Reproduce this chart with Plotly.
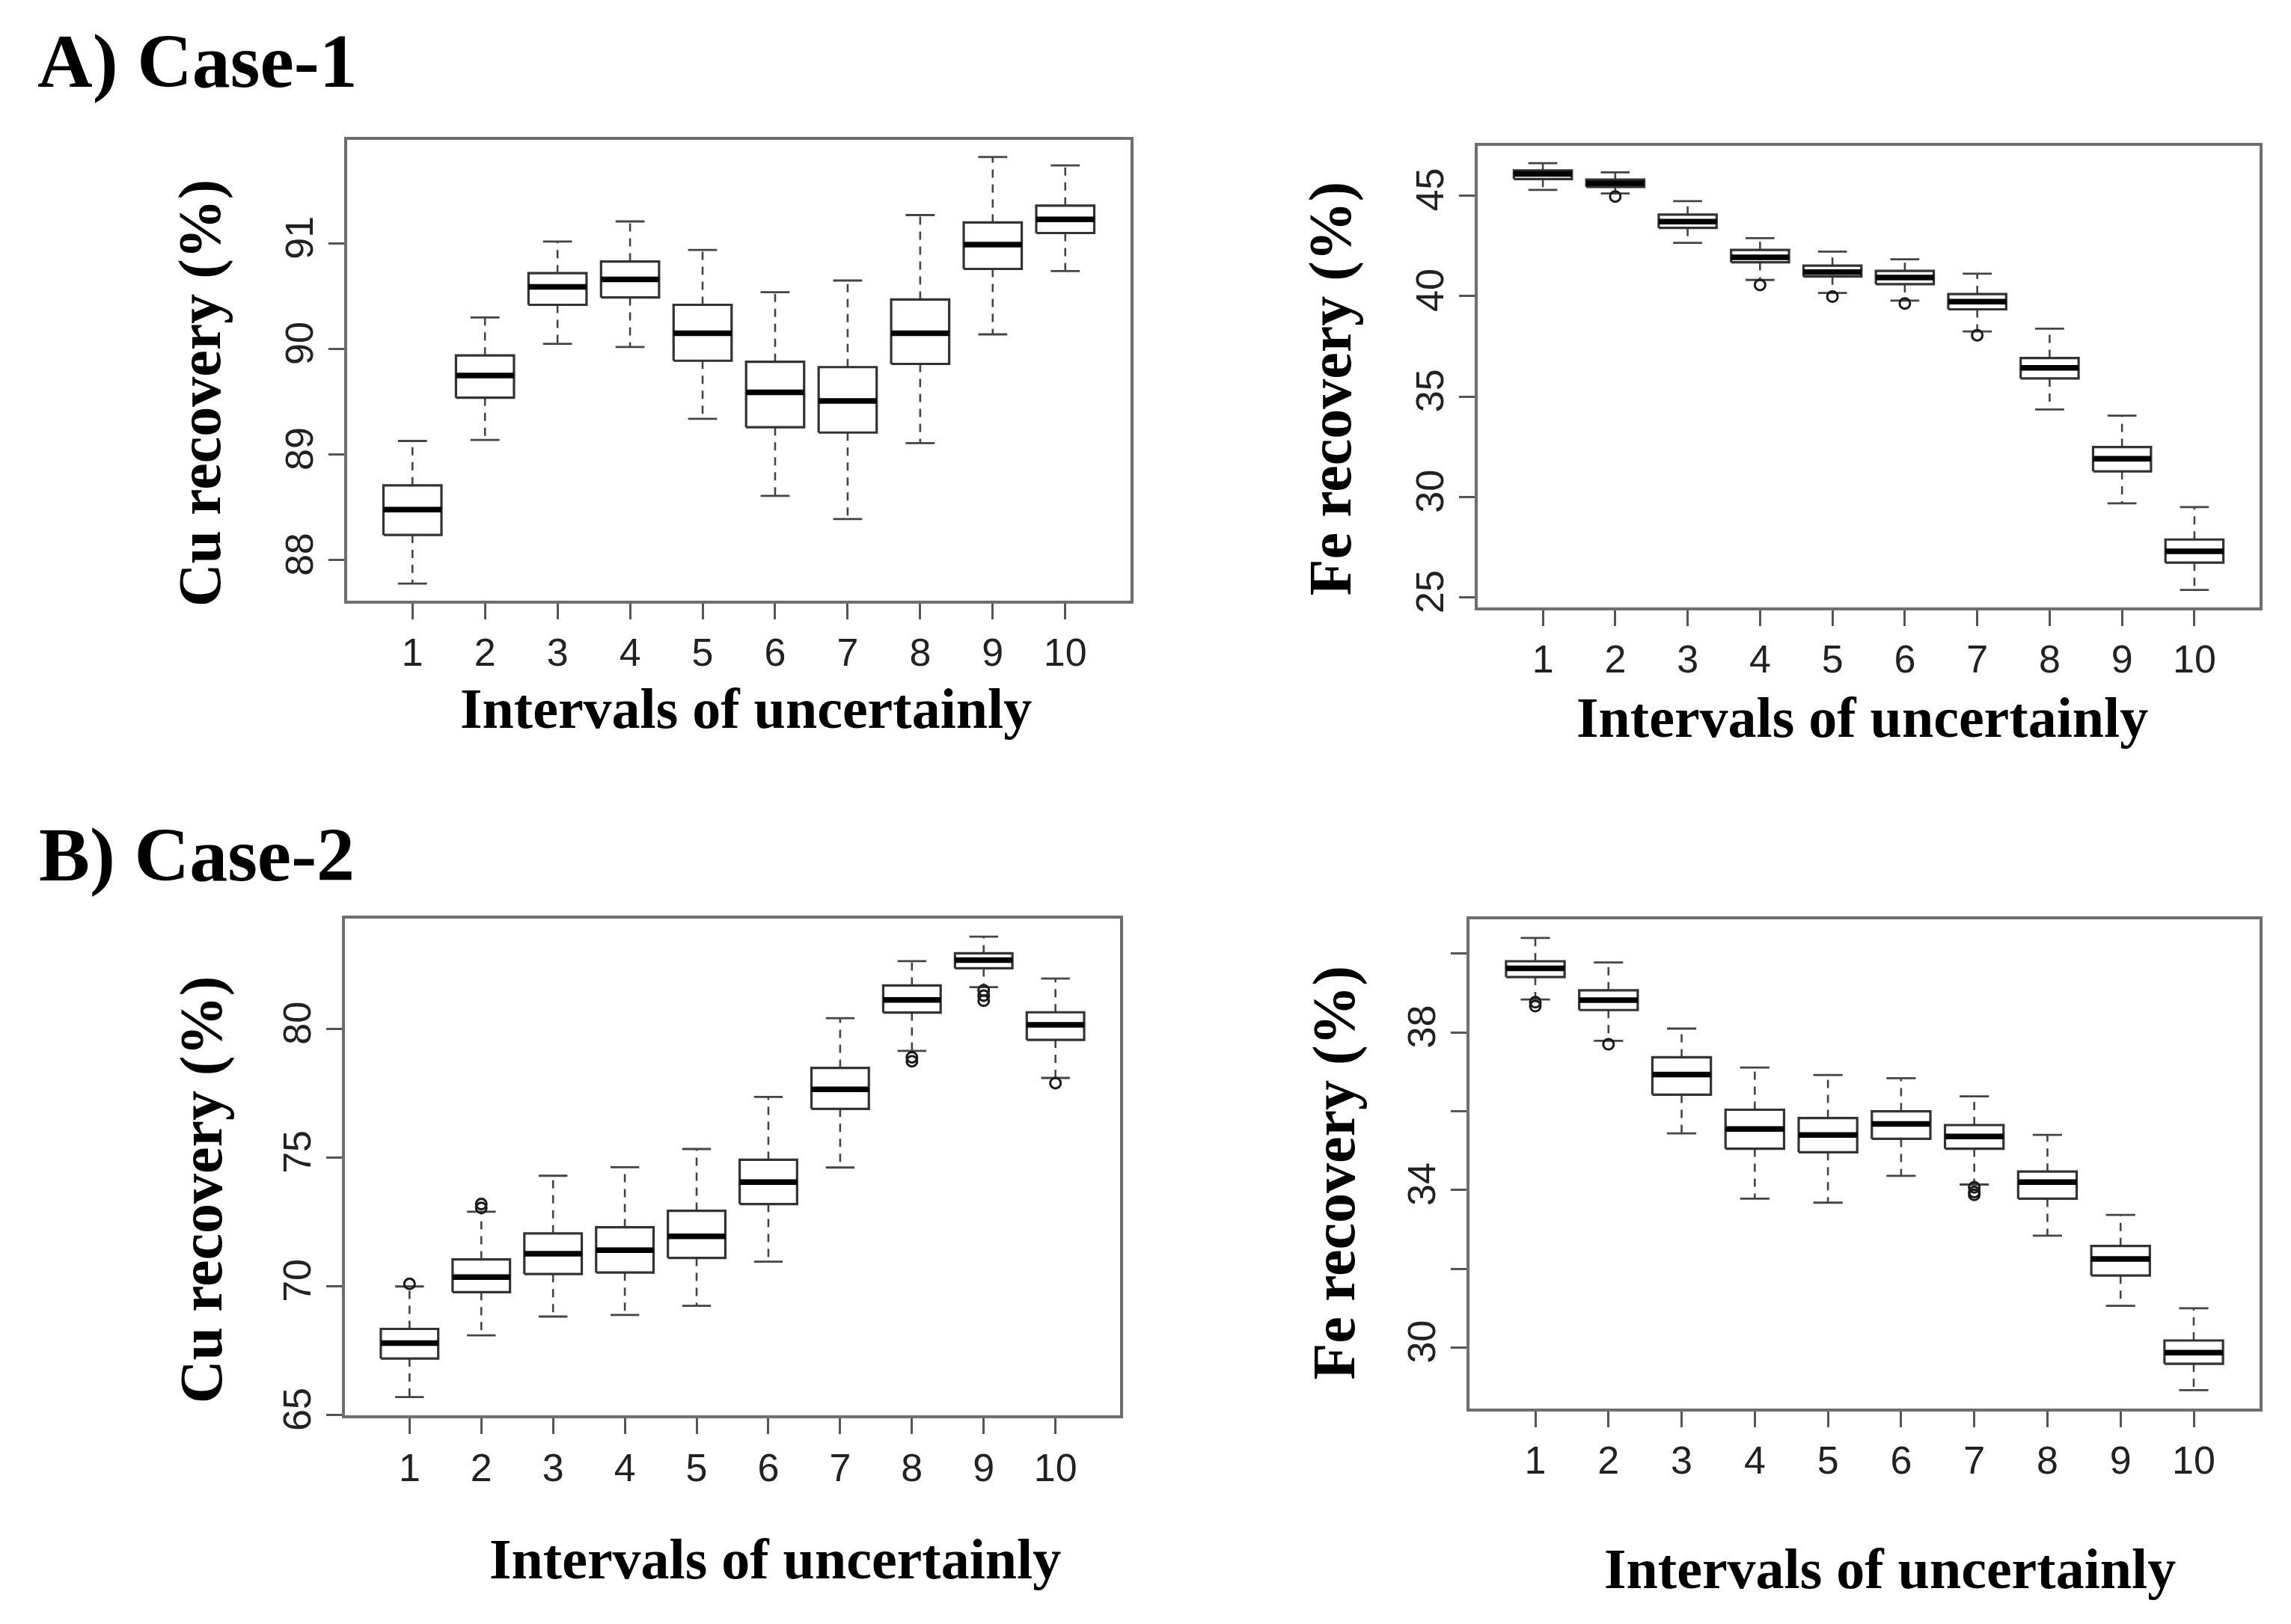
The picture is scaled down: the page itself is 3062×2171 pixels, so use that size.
import plotly.graph_objects as go

intervals = list(range(1, 11))
tick_labels = [str(i) for i in intervals]

# ---- A) Case-1, Cu recovery ----
a_cu_low = [87.78, 89.14, 90.05, 90.02, 89.34, 88.61, 88.39, 89.11, 90.14, 90.74]
a_cu_q1 = [88.24, 89.54, 90.42, 90.49, 89.89, 89.26, 89.21, 89.86, 90.76, 91.10]
a_cu_med = [88.48, 89.75, 90.59, 90.66, 90.15, 89.59, 89.51, 90.15, 90.99, 91.23]
a_cu_q3 = [88.71, 89.94, 90.72, 90.83, 90.42, 89.88, 89.83, 90.47, 91.20, 91.36]
a_cu_up = [89.13, 90.30, 91.02, 91.21, 90.94, 90.54, 90.65, 91.27, 91.82, 91.74]
a_cu_out = {}

# ---- A) Case-1, Fe recovery ----
a_fe_low = [45.28, 45.10, 42.65, 40.80, 40.15, 39.77, 38.24, 34.36, 29.69, 25.38]
a_fe_q1 = [45.82, 45.43, 43.39, 41.68, 40.97, 40.59, 39.34, 35.90, 31.28, 26.74]
a_fe_med = [46.07, 45.61, 43.70, 41.93, 41.19, 40.92, 39.72, 36.43, 31.91, 27.30]
a_fe_q3 = [46.25, 45.79, 44.05, 42.29, 41.51, 41.25, 40.10, 36.92, 32.49, 27.89]
a_fe_up = [46.61, 46.15, 44.72, 42.88, 42.21, 41.83, 41.11, 38.38, 34.05, 29.50]
a_fe_out = {2: [44.95], 4: [40.55], 5: [39.97], 6: [39.63], 7: [38.05]}

# ---- B) Case-2, Cu recovery ----
b_cu_low = [65.70, 68.10, 68.83, 68.89, 69.25, 70.96, 74.62, 79.15, 81.63, 78.10]
b_cu_q1 = [67.20, 69.78, 70.48, 70.54, 71.11, 73.20, 76.90, 80.64, 82.36, 79.58]
b_cu_med = [67.80, 70.36, 71.27, 71.41, 71.95, 74.05, 77.66, 81.13, 82.68, 80.16]
b_cu_q3 = [68.35, 71.05, 72.06, 72.30, 72.94, 74.92, 78.49, 81.69, 82.94, 80.65]
b_cu_up = [70.00, 72.90, 74.30, 74.63, 75.34, 77.36, 80.42, 82.64, 83.59, 81.96]
b_cu_out = {1: [70.10], 2: [73.05, 73.20], 8: [78.90, 78.75], 9: [81.50, 81.30, 81.10], 10: [77.90]}

# ---- B) Case-2, Fe recovery ----
b_fe_low = [38.84, 37.79, 35.44, 33.78, 33.68, 34.36, 34.14, 32.84, 31.06, 28.92]
b_fe_q1 = [39.41, 38.57, 36.42, 35.05, 34.96, 35.30, 35.05, 33.78, 31.83, 29.59]
b_fe_med = [39.63, 38.82, 36.93, 35.55, 35.40, 35.68, 35.36, 34.20, 32.25, 29.87]
b_fe_q3 = [39.81, 39.07, 37.37, 36.04, 35.83, 36.00, 35.65, 34.47, 32.58, 30.18]
b_fe_up = [40.40, 39.78, 38.10, 37.11, 36.92, 36.84, 36.38, 35.40, 33.37, 31.00]
b_fe_out = {1: [38.77, 38.67], 2: [37.70], 7: [34.07, 33.95, 33.88]}

x_title = "Intervals of uncertainly"
cu_title = "Cu recovery (%)"
fe_title = "Fe recovery (%)"

BOX_HALF = 0.4
CAP_HALF = 0.2
LINE_COL = "#333333"

fig = go.Figure()


def add_boxplot(xa, ya, low, q1, med, q3, up, outl):
    wx, wy, cx, cy, bx, by, mx, my = [], [], [], [], [], [], [], []
    for i, x in enumerate(intervals):
        wx += [x, x, None, x, x, None]
        wy += [q3[i], up[i], None, q1[i], low[i], None]
        cx += [x - CAP_HALF, x + CAP_HALF, None, x - CAP_HALF, x + CAP_HALF, None]
        cy += [up[i], up[i], None, low[i], low[i], None]
        bx += [x - BOX_HALF, x + BOX_HALF, x + BOX_HALF, x - BOX_HALF, x - BOX_HALF, None]
        by += [q1[i], q1[i], q3[i], q3[i], q1[i], None]
        mx += [x - BOX_HALF, x + BOX_HALF, None]
        my += [med[i], med[i], None]
    common = dict(xaxis=xa, yaxis=ya, showlegend=False, hoverinfo="skip", mode="lines")
    fig.add_trace(go.Scatter(x=wx, y=wy, line=dict(color="#444444", width=2.6, dash="11px,9px"), **common))
    fig.add_trace(go.Scatter(x=cx, y=cy, line=dict(color="#444444", width=2.8), **common))
    fig.add_trace(go.Scatter(x=bx, y=by, line=dict(color=LINE_COL, width=3.2), **common))
    fig.add_trace(go.Scatter(x=mx, y=my, line=dict(color="#000000", width=7.5), **common))
    ox, oy = [], []
    for k, vals in outl.items():
        for v in vals:
            ox.append(k)
            oy.append(v)
    if ox:
        fig.add_trace(go.Scatter(x=ox, y=oy, xaxis=xa, yaxis=ya, mode="markers", showlegend=False,
                                 hoverinfo="skip",
                                 marker=dict(symbol="circle-open", size=14, color="#1a1a1a",
                                             line=dict(width=3, color="#1a1a1a"))))


add_boxplot("x", "y", a_cu_low, a_cu_q1, a_cu_med, a_cu_q3, a_cu_up, a_cu_out)
add_boxplot("x2", "y2", a_fe_low, a_fe_q1, a_fe_med, a_fe_q3, a_fe_up, a_fe_out)
add_boxplot("x3", "y3", b_cu_low, b_cu_q1, b_cu_med, b_cu_q3, b_cu_up, b_cu_out)
add_boxplot("x4", "y4", b_fe_low, b_fe_q1, b_fe_med, b_fe_q3, b_fe_up, b_fe_out)

W, H = 3062, 2171
tick_font = dict(family="Liberation Sans Narrow, Liberation Sans, Arial, sans-serif", size=52, color="#222222")


def xax(x0, x1, anchor):
    return dict(domain=[x0 / W, x1 / W], anchor=anchor, range=[0.1, 10.9],
                tickmode="array", tickvals=intervals, ticktext=tick_labels,
                showline=True, mirror=True, linecolor="#6e6e6e", linewidth=4,
                ticks="outside", ticklen=21, tickwidth=3, tickcolor="#555555",
                tickfont=tick_font, showgrid=False, zeroline=False, fixedrange=True)


def yax(y0, y1, anchor, rng, tv, tt):
    return dict(domain=[1 - y1 / H, 1 - y0 / H], anchor=anchor, range=rng,
                tickmode="array", tickvals=tv, ticktext=tt, tickangle=-90,
                showline=True, mirror=True, linecolor="#6e6e6e", linewidth=4,
                ticks="outside", ticklen=21, tickwidth=3, tickcolor="#555555",
                tickfont=tick_font, showgrid=False, zeroline=False, fixedrange=True)


fig.update_layout(
    width=W, height=H,
    margin=dict(l=0, r=0, t=0, b=0),
    paper_bgcolor="white", plot_bgcolor="white",
    xaxis=xax(456, 1503, "y"),
    yaxis=yax(181, 802, "x", [87.62, 91.98], [88, 89, 90, 91], ["88", "89", "90", "91"]),
    xaxis2=xax(1967, 3012, "y2"),
    yaxis2=yax(189, 811, "x2", [24.53, 47.46], [25, 30, 35, 40, 45], ["25", "30", "35", "40", "45"]),
    xaxis3=xax(453, 1489, "y3"),
    yaxis3=yax(1231, 1902, "x3", [64.98, 84.30], [65, 70, 75, 80], ["65", "70", "75", "80"]),
    xaxis4=xax(1956, 3012, "y4"),
    yaxis4=yax(1232, 1892, "x4", [28.46, 40.88], [30, 32, 34, 36, 38, 40], ["30", "", "34", "", "38", ""]),
)

ytitle_font = dict(family="Liberation Serif, Times New Roman, serif", size=80, color="#000000")
xtitle_font = dict(family="Liberation Serif, Times New Roman, serif", size=76, color="#000000")
panel_font = dict(family="Liberation Serif, Times New Roman, serif", size=102, color="#000000")


def ann(text, x, y, font, angle=0, xanchor="center"):
    fig.add_annotation(text="<b>%s</b>" % text, x=x / W, y=1 - y / H, xref="paper", yref="paper",
                       showarrow=False, font=font, textangle=angle, xanchor=xanchor, yanchor="middle")


ann("A) Case-1", 40, 74, panel_font, xanchor="left")
ann("B) Case-2", 42, 1145, panel_font, xanchor="left")
ann(cu_title, 259, 522, ytitle_font, angle=-90)
ann(fe_title, 1770, 516, ytitle_font, angle=-90)
ann(cu_title, 261, 1597, ytitle_font, angle=-90)
ann(fe_title, 1775, 1574, ytitle_font, angle=-90)
ann(x_title, 989, 948, xtitle_font)
ann(x_title, 2481, 960, xtitle_font)
ann(x_title, 1028, 2095, xtitle_font)
ann(x_title, 2518, 2108, xtitle_font)

fig.write_html("out.html")
